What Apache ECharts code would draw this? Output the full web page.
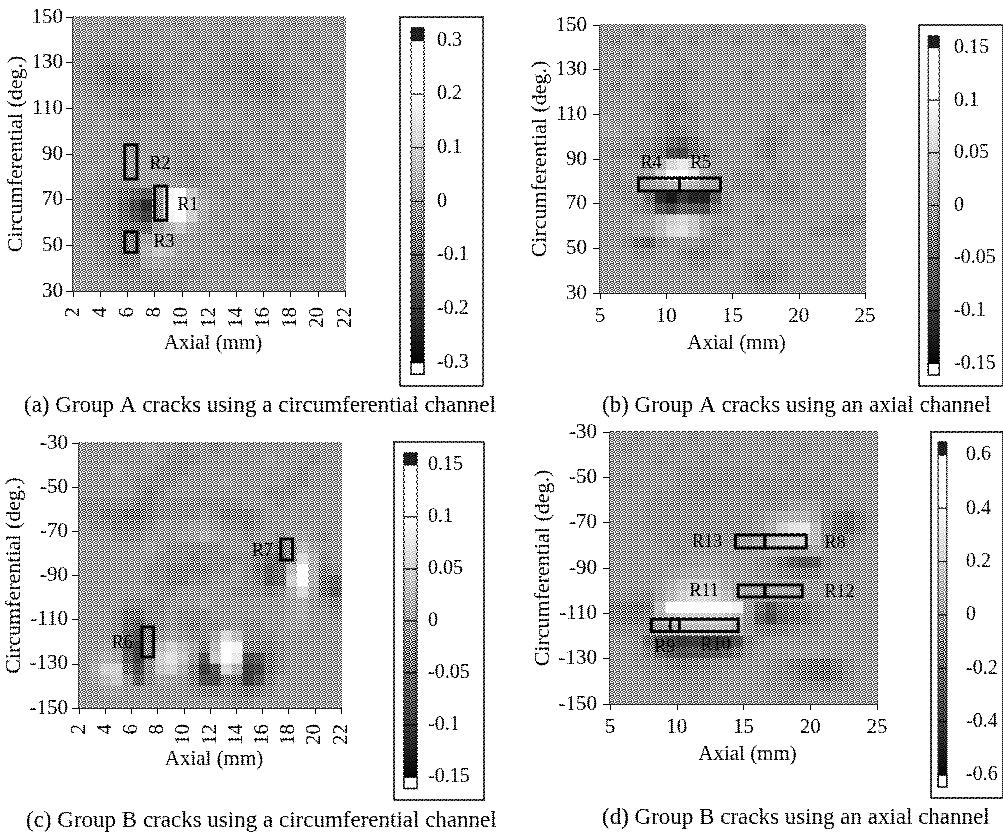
<!DOCTYPE html>
<html><head><meta charset="utf-8">
<style>html,body{margin:0;padding:0;background:#fff}#c{width:1003px;height:832px}
#ht{position:absolute;left:0;top:0;width:1003px;height:832px;mix-blend-mode:overlay;opacity:.95;pointer-events:none;image-rendering:pixelated}</style>
<script src="https://cdn.jsdelivr.net/npm/echarts@6/dist/echarts.min.js"></script></head>
<body><div id="c"></div><div id="ht"></div>
<script>
// Values below are in hundredths of the colour-bar unit, rows run from the top of each plot.
const valuesA=[
[1,0,1,0,-1,0,1,0,0,-1,0,1,0,0,-1,0,0,1,0,-1,0,1,0,0],
[0,1,0,-1,0,0,-1,0,1,0,-1,0,0,-1,0,0,1,0,-1,0,0,0,1,0],
[0,-1,-1,0,-1,-1,0,0,-1,0,0,-1,0,-1,-1,-1,0,0,-1,0,-1,0,0,1],
[-1,-1,-2,-2,-2,-1,-1,-1,0,-1,-1,0,-1,-2,-2,-3,-2,-1,-1,0,0,-1,0,0],
[-1,-2,-3,-4,-3,-3,-2,-1,-1,-1,0,-1,-1,-2,-3,-3,-3,-2,-1,-1,0,0,-1,0],
[-1,-2,-3,-5,-4,-4,-4,-2,-1,0,-1,-1,-2,-2,-2,-3,-4,-3,-2,-1,-1,0,0,0],
[0,-1,-2,-3,-3,-4,-4,-2,-1,-1,0,-1,-1,-1,-2,-3,-3,-4,-2,-1,0,0,1,0],
[1,0,-1,-1,-2,-2,-1,-1,0,0,1,0,-1,0,-1,-1,-2,-2,-1,-1,0,1,0,0],
[1,0,0,-1,-3,-3,-2,-1,-1,0,0,1,0,0,0,-1,-1,-1,-1,0,0,0,1,0],
[0,0,1,0,0,-1,0,0,-1,0,1,0,0,1,0,0,-1,0,0,-1,0,0,1,0],
[0,1,0,0,-1,-1,0,0,-1,-1,-1,0,-1,-1,-1,0,-1,-1,0,-1,-1,0,0,0],
[1,0,0,-1,-1,-1,0,0,0,-1,-1,-1,0,-1,-1,0,0,-1,-1,0,0,0,0,1],
[0,0,0,0,-1,0,1,0,0,-1,-2,-1,0,0,-1,-1,0,0,0,-1,0,1,0,0],
[0,1,0,-1,-1,0,1,1,0,-2,-3,-2,-1,0,0,-1,-1,0,-1,0,0,0,1,0],
[0,0,-1,-2,-2,-1,0,1,1,0,-1,-1,0,0,-1,0,0,-1,0,0,1,0,0,0],
[0,-1,-2,-3,-6,-9,-11,-1,18,24,8,2,0,-1,0,-1,0,0,-1,0,0,0,1,0],
[0,-1,-2,-4,-9,-15,-22,-3,22,28,12,4,1,0,-1,0,-1,-1,0,0,-1,0,0,0],
[0,-1,-2,-4,-8,-13,-18,-2,18,24,10,3,0,0,0,-1,0,-1,-1,0,0,0,1,0],
[0,-1,-2,-4,-6,-7,-8,0,5,8,3,1,0,-1,0,0,-1,-2,-2,-1,0,0,0,0],
[0,0,-1,-3,-5,-4,1,4,3,1,1,0,0,0,-1,-1,-1,-2,-2,-1,-1,0,0,0],
[0,0,-1,-3,-5,-3,4,8,6,2,1,0,0,-1,-1,-2,-3,-3,-2,-2,-1,0,0,0],
[0,0,-1,-2,-4,-3,2,3,2,1,0,0,0,0,-1,-1,-1,-2,-1,-2,-2,-1,0,0],
[0,0,0,-1,-2,-2,-1,0,0,-1,-1,0,0,0,0,0,0,-1,-1,-1,0,0,0,0],
[1,0,0,0,-1,-1,-2,-2,-1,-1,0,0,1,0,0,1,0,0,0,0,1,0,0,1]];
const valuesB=[
[0,0,0,-1,0,0,0,0,0,0,-1,0,0,0,0,0,-1,0,0,0,0,0,0,0],
[0,-1,0,0,0,-1,0,0,-1,0,0,0,-1,0,0,0,0,-1,0,0,0,0,-1,0],
[0,0,0,0,0,0,-1,0,0,0,0,0,0,0,0,0,0,0,0,0,-1,0,0,-1],
[0,0,-1,0,0,0,0,-1,0,0,0,0,0,0,0,0,-1,0,0,-1,0,0,-1,0],
[0,0,0,0,0,-1,-1,-1,-1,0,0,0,0,-1,0,0,0,0,0,0,0,-1,0,0],
[0,-1,0,0,-1,-1,-1,-1,0,0,0,0,0,0,0,0,0,0,0,0,-1,-1,0,0],
[0,0,0,0,0,-1,-1,-1,0,0,0,0,0,0,0,0,0,0,-1,-1,-1,-1,-1,0],
[0,0,0,0,-1,-1,-2,-2,-1,0,0,0,0,0,0,0,0,-1,0,0,0,-1,-1,0],
[1,0,0,0,0,-1,-2,-1,-1,0,0,0,0,0,0,-1,0,0,0,0,-1,-1,0,0],
[1,1,0,0,0,-1,-2,-2,-1,0,0,0,0,0,0,-1,-1,0,0,0,-1,0,0,0],
[0,0,0,-1,-1,-2,-4,-5,-3,-1,0,0,0,0,-1,-2,-1,0,0,0,0,0,0,0],
[0,-1,-1,-1,-2,-3,-7,-8,-4,-2,-1,0,0,0,-1,-2,0,0,0,0,0,0,0,0],
[0,0,0,0,0,2,6,8,5,1,0,0,0,0,0,-1,0,0,0,0,0,0,0,0],
[0,-1,0,0,1,5,10,11,8,2,0,0,-1,-1,-1,0,-1,0,0,0,0,0,0,0],
[0,-1,-1,0,0,1,2,3,2,0,0,0,-1,-1,-1,-1,-1,-1,0,0,0,0,0,0],
[0,0,-1,-1,-4,-11,-13,-10,-12,-12,-6,-1,0,0,0,-1,-1,-1,0,0,0,0,0,0],
[0,0,0,-1,-2,-6,-8,-5,-6,-7,-3,-1,0,0,0,0,0,0,0,0,0,0,0,0],
[0,0,0,1,1,3,5,6,4,1,0,0,0,0,-1,0,0,0,0,0,0,-1,-1,-1],
[0,0,0,1,1,3,6,7,4,1,-1,-1,0,0,0,0,0,0,0,-1,-1,-1,-1,0],
[0,0,-1,-3,-4,-1,0,0,0,-1,-1,0,0,0,0,0,0,0,0,0,0,0,0,0],
[0,0,0,-1,-1,0,0,-1,-2,-2,-1,-1,0,0,0,-1,0,0,0,0,0,0,0,0],
[0,0,0,0,0,0,0,0,-1,-1,0,0,0,-1,-1,-1,-1,0,0,0,0,0,0,0],
[0,0,0,0,0,0,0,0,0,0,0,0,0,-1,-2,-2,-1,0,0,0,0,0,0,0],
[0,0,0,0,0,0,0,0,0,0,0,0,0,0,-1,-1,0,0,0,0,0,0,0,0]];
const valuesC=[
[0,0,0,0,0,0,1,0,0,-1,0,0,-1,0,0,0,0,0,0,0,0,0,0,0],
[0,0,0,0,0,0,0,0,-1,-1,-1,0,0,0,0,0,0,1,0,0,0,-1,0,0],
[0,0,0,1,0,0,0,-1,-1,-1,0,0,0,0,0,0,0,0,0,0,-1,0,0,0],
[0,0,0,0,0,-1,-1,-1,-1,0,0,0,0,1,0,0,0,0,0,-1,-1,0,0,0],
[0,0,0,0,0,-1,-2,-1,0,0,0,0,0,0,0,0,0,-1,-1,-1,0,0,0,0],
[-1,-1,-1,-1,-1,-2,-2,-1,-1,-1,-1,-1,-1,-1,-1,0,0,0,-1,0,0,0,0,0],
[-1,-1,-2,-2,-3,-3,-2,-1,-1,-1,-1,0,-1,-2,-2,-2,-1,0,0,0,0,0,0,0],
[0,-1,-1,-2,-2,-2,-1,0,0,0,1,1,0,-1,-1,-2,-1,0,0,0,0,0,0,0],
[0,0,0,-1,-1,-1,0,0,0,1,1,2,1,0,0,-1,0,0,-1,1,1,0,-1,0],
[0,0,0,0,0,0,1,0,-1,-1,-1,-1,-1,0,0,0,-1,-2,-3,-1,3,1,0,0],
[0,0,0,0,0,0,0,-1,-1,-1,-2,-1,-1,-1,-1,-1,-2,-4,-5,-1,6,2,-1,0],
[0,0,0,0,0,0,-1,-1,-2,-2,-2,-2,-1,-1,0,-1,-3,-5,-4,3,10,2,-2,-1],
[0,0,0,0,0,0,-1,-1,-2,-2,-1,-1,0,0,0,-1,-2,-5,-4,5,13,2,-3,-4],
[0,0,0,0,0,0,0,-1,-1,0,0,0,0,0,-1,-1,-1,-2,-1,2,6,1,-3,-5],
[0,0,0,0,-1,-1,-1,-1,0,0,0,1,0,0,0,0,0,0,0,1,2,0,-1,-2],
[0,0,0,-1,-3,-3,-1,-1,0,-1,-1,-1,0,0,0,0,0,0,0,1,2,0,0,-1],
[0,0,0,-1,-4,-5,-2,-1,0,-1,-2,-1,-1,0,0,-1,-1,0,0,1,1,0,0,0],
[0,0,0,-1,-5,-7,-3,0,1,0,-1,-1,1,6,3,-1,-1,-1,0,0,0,0,0,0],
[0,0,1,0,-6,-9,-2,3,5,3,1,-2,3,14,9,-2,-2,-2,-1,0,0,0,0,0],
[0,1,2,1,-5,-9,-1,5,7,4,0,-6,4,15,8,-7,-6,-3,-1,0,0,0,0,0],
[0,2,5,5,-3,-7,-1,4,5,2,-2,-9,-6,6,2,-9,-8,-3,-1,0,0,0,0,0],
[0,1,3,4,0,-5,-1,1,1,0,-2,-7,-7,-2,-3,-9,-6,-2,0,0,0,0,0,0],
[0,0,1,1,0,0,0,0,0,0,-1,-2,-2,-1,-2,-3,-2,-1,0,0,0,0,0,0],
[0,0,0,0,0,0,0,0,0,0,0,0,0,0,-1,-1,0,0,0,0,0,0,0,0]];
const valuesD=[
[0,0,-2,0,0,0,0,-2,0,0,0,0,0,0,-2,0,0,0,0,0,0,-2,0,0],
[0,-2,0,0,0,-2,0,0,0,0,-2,0,0,0,0,0,0,-2,0,0,0,0,0,0],
[0,0,0,0,-2,0,0,0,-2,0,0,0,0,0,0,-2,0,0,0,0,-2,0,0,0],
[0,0,0,0,0,0,-2,-2,-2,-2,-2,-2,-2,0,0,0,-2,0,0,-2,0,0,0,0],
[0,-2,0,0,0,0,-2,-3,-4,-4,-4,-3,-2,-3,-3,-2,-2,-2,-2,-2,0,0,0,0],
[0,0,0,0,-2,-2,-3,-4,-4,-3,-3,-2,-2,-3,-4,-3,-2,-2,-2,-2,-2,0,0,0],
[0,0,0,-2,-2,-3,-3,-3,-2,-2,-2,-2,-2,-2,-2,-2,2,3,2,-2,-3,-4,-2,0],
[0,0,0,-2,-2,-2,-2,-2,-2,-2,-2,-2,-2,0,4,8,10,10,5,-5,-12,-15,-8,-2],
[0,0,0,-2,-2,-2,-2,-2,-2,-2,-2,-2,0,2,8,20,28,30,12,-5,-14,-16,-8,-2],
[0,0,0,0,-2,-2,-2,-2,-2,-2,-2,0,0,5,12,15,18,20,12,-3,-6,-5,-2,0],
[0,0,0,0,0,-2,-2,0,0,0,0,0,0,2,5,4,0,2,4,0,-2,-2,0,0],
[0,0,0,0,0,0,0,2,3,3,2,0,0,-3,-5,-12,-20,-25,-22,-5,-2,0,0,0],
[0,0,0,0,0,3,5,6,7,6,4,2,0,-2,-3,-6,-8,-10,-8,-2,0,0,0,0],
[0,0,0,0,3,8,14,18,18,14,8,4,2,3,4,4,3,2,0,0,0,0,0,0],
[-3,-3,-4,-5,3,12,20,26,26,20,14,6,0,2,2,2,2,2,0,2,2,0,0,0],
[-8,-10,-12,-10,12,45,58,58,58,58,50,35,0,-15,-25,-15,-12,-10,-5,-2,0,0,0,0],
[-8,-10,-10,-8,6,15,20,20,20,20,18,10,-3,-20,-30,-18,-14,-12,-5,-2,0,0,0,0],
[-3,-4,-4,-5,-2,5,8,10,10,10,8,4,-2,-8,-10,-8,-5,-3,-2,0,0,0,0,0],
[0,0,-3,-15,-28,-35,-40,-38,-38,-40,-38,-28,-8,-2,0,0,0,0,0,0,0,0,0,0],
[0,0,-2,-8,-18,-25,-28,-25,-25,-24,-20,-12,-4,0,0,0,2,2,2,0,0,0,0,0],
[0,0,-2,-3,-5,-8,-10,-8,-6,-4,-3,-2,0,0,-2,-4,-8,-10,-12,-12,-8,-3,0,0],
[0,0,0,-2,-2,-4,-5,-4,-3,-2,0,0,0,0,-2,-4,-6,-10,-14,-14,-10,-3,0,0],
[0,0,0,0,-2,-2,-2,-2,-2,0,0,0,0,0,-2,-2,-4,-4,-5,-6,-4,-2,0,0],
[0,0,0,0,0,0,0,-2,0,0,0,0,0,0,0,-2,-2,0,0,0,0,0,0,0]];

const ticksX22=[2,4,6,8,10,12,14,16,18,20,22];
const ticksX25=[5,10,15,20,25];
const ticksYPos=[30,50,70,90,110,130,150];
const ticksYNeg=[-150,-130,-110,-90,-70,-50,-30];
const levelsA=[0.3,0.2,0.1,0,-0.1,-0.2,-0.3];
const levelsB=[0.15,0.1,0.05,0,-0.05,-0.1,-0.15];
const levelsD=[0.6,0.4,0.2,0,-0.2,-0.4,-0.6];

// [x from, x to, deg from, deg to]
const regionsA=[[8.0,8.9,76,61],[5.8,6.7,94,79],[5.8,6.7,56,47]];
const regionsB=[[7.9,11,81.5,75.7],[11,14.1,81.5,75.7]];
const regionsC=[[6.8,7.7,-113.3,-126.9],[17.4,18.3,-73.5,-83]];
const regionsD=[[14.4,16.6,-75.4,-81.2],[16.6,19.7,-75.4,-81.2],[14.6,16.6,-97.5,-102.8],[16.6,19.4,-97.5,-102.8],[8.1,10.2,-112.6,-118],[9.5,14.6,-112.6,-118]];
const regionNamesA=[['R1',10.46,67.6],['R2',8.4,85.5],['R3',8.7,51.4]];
const regionNamesB=[['R4',8.85,88.2],['R5',12.6,88.2]];
const regionNamesC=[['R6',5.3,-120.6],['R7',16,-78.9]];
const regionNamesD=[['R13',12.27,-78.5],['R8',21.85,-79],['R11',12.05,-100.1],['R12',22.2,-100.6],['R9',9.1,-124.8],['R10',12.9,-124]];

const FONT='"Liberation Serif","Times New Roman",serif';
const STOPS=['#000000','#383838','#686868','#a0a0a0','#d4d4d4','#ffffff','#ffffff'];
function shade(t){ // t in -1..1 -> gray, same ramp as the visualMap
  const p=Math.max(0,Math.min(5.9999,(t+1)*3)),i=Math.floor(p),f=p-i;
  const a=parseInt(STOPS[i].slice(1,3),16),b=parseInt(STOPS[i+1].slice(1,3),16);
  const g=Math.round(a+(b-a)*f);return 'rgb('+g+','+g+','+g+')';
}
// halftone texture of the scanned print, blended over the page (black and white stay as they are)
(function(){const cv=document.createElement('canvas');cv.width=cv.height=6;const x=cv.getContext('2d');
  const m=[[1,0,1,0,0,1],[0,1,0,1,1,0],[1,0,0,1,0,1],[0,1,1,0,1,0],[1,0,1,0,1,1],[0,0,1,1,0,0]];
  m.forEach((r,j)=>r.forEach((v,i)=>{x.fillStyle=v?'#fff':'#000';x.fillRect(i,j,1,1);}));
  document.getElementById('ht').style.backgroundImage='url('+cv.toDataURL()+')';})();

const panels=[
 {vals:valuesA,F:0.3,xr:[2,22],yr:[30,150],xt:ticksX22,yt:ticksYPos,rot:90,
  g:{left:73,top:17,width:272,height:274},xgap:42,ygap:46,ym:10,regs:regionsA,names:regionNamesA,
  lv:levelsA,box:{left:400,top:17,width:83,height:369},ext:0.344,bar:[411,424],barEnds:[0.324,-0.322],lm:37,
  cap:'(a) Group A cracks using a circumferential channel',capX:24,capY:394},
 {vals:valuesB,F:0.15,xr:[5,25],yr:[30,150],xt:ticksX25,yt:ticksYPos,rot:0,
  g:{left:600,top:25,width:265,height:268},xgap:40,ygap:47,ym:13,regs:regionsB,names:regionNamesB,
  lv:levelsB,box:{left:919,top:25,width:100,height:361},ext:0.1715,bar:[930,943],barEnds:[0.161,-0.161],lm:35,
  cap:'(b) Group A cracks using an axial channel',capX:602,capY:394},
 {vals:valuesC,F:0.15,xr:[2,22],yr:[-150,-30],xt:ticksX22,yt:ticksYNeg,rot:90,
  g:{left:79,top:443,width:262,height:265},xgap:40,ygap:52,ym:11,regs:regionsC,names:regionNamesC,
  lv:levelsB,box:{left:394,top:442,width:90,height:358},ext:0.172,bar:[404,417],barEnds:[0.1615,-0.161],lm:34,
  cap:'(c) Group B cracks using a circumferential channel',capX:26,capY:809},
 {vals:valuesD,F:0.6,xr:[5,25],yr:[-150,-30],xt:ticksX25,yt:ticksYNeg,rot:0,
  g:{left:610,top:432,width:267,height:272},xgap:40,ygap:55,ym:13,regs:regionsD,names:regionNamesD,
  lv:levelsD,box:{left:931,top:432,width:100,height:366},ext:0.686,bar:[941,953],barEnds:[0.649,-0.645],lm:35,
  cap:'(d) Group B cracks using an axial channel',capX:602,capY:806}
];

const opt={animation:false,backgroundColor:'#fff',grid:[],xAxis:[],yAxis:[],series:[],visualMap:[],title:[]};
const txt={fontFamily:FONT,fontSize:21,color:'#000'};
const bartxt={fontFamily:FONT,fontSize:20,color:'#000'};
panels.forEach((p)=>{
  const gi=opt.grid.length;
  opt.grid.push(Object.assign({show:true,borderColor:'#222',borderWidth:1,backgroundColor:'transparent',containLabel:false},p.g));
  const cols=p.vals[0].map((_,i)=>i),rows=p.vals.map((_,i)=>i);
  const xCat=opt.xAxis.length;
  opt.xAxis.push({type:'category',gridIndex:gi,data:cols,show:false});
  const xVal=opt.xAxis.length;
  opt.xAxis.push({type:'value',gridIndex:gi,min:p.xr[0],max:p.xr[1],position:'bottom',name:'Axial (mm)',nameLocation:'middle',nameGap:p.xgap,
    nameTextStyle:Object.assign({},txt,{padding:[0,0,0,8]}),splitLine:{show:false},axisLine:{show:true,onZero:false,lineStyle:{color:'#000',width:2}},
    axisTick:{show:true,length:6,customValues:p.xt,lineStyle:{color:'#000',width:1}},
    axisLabel:Object.assign({},txt,{rotate:p.rot,margin:p.rot?16:13,customValues:p.xt,hideOverlap:false,showMinLabel:true,showMaxLabel:true})});
  const yCat=opt.yAxis.length;
  opt.yAxis.push({type:'category',gridIndex:gi,data:rows,show:false});
  const yVal=opt.yAxis.length;
  opt.yAxis.push({type:'value',gridIndex:gi,min:p.yr[0],max:p.yr[1],position:'left',name:'Circumferential (deg.)',nameLocation:'middle',nameGap:p.ygap,
    nameTextStyle:Object.assign({},txt,{fontSize:22}),splitLine:{show:false},axisLine:{show:true,onZero:false,lineStyle:{color:'#000',width:1.5}},
    axisTick:{show:true,length:7,customValues:p.yt,lineStyle:{color:'#000',width:1}},
    axisLabel:Object.assign({},txt,{margin:p.ym,customValues:p.yt,hideOverlap:false,showMinLabel:true,showMaxLabel:true})});
  // field
  const hm=[];
  p.vals.forEach((r,j)=>r.forEach((v,i)=>hm.push([i,p.vals.length-1-j,v/100])));
  const si=opt.series.length;
  opt.series.push({type:'heatmap',xAxisIndex:xCat,yAxisIndex:yCat,data:hm,silent:true,z:1,progressive:0,emphasis:{disabled:true}});
  opt.visualMap.push({type:'continuous',show:false,min:-p.F,max:p.F,seriesIndex:si,calculable:false,inRange:{color:STOPS}});
  // region boxes
  opt.series.push({type:'custom',xAxisIndex:xVal,yAxisIndex:yVal,silent:true,z:3,clip:false,data:p.regs,
    renderItem:(params,api)=>{const a=api.coord([api.value(0),api.value(2)]),b=api.coord([api.value(1),api.value(3)]);
      return {type:'rect',shape:{x:a[0],y:a[1],width:b[0]-a[0],height:b[1]-a[1]},style:{fill:'none',stroke:'#000',lineWidth:3}};}});
  // region names
  opt.series.push({type:'scatter',xAxisIndex:xVal,yAxisIndex:yVal,silent:true,z:4,symbolSize:1,itemStyle:{color:'transparent'},
    data:p.names.map(n=>({name:n[0],value:[n[1],n[2]]})),
    label:{show:true,position:'inside',formatter:'{b}',fontFamily:FONT,fontSize:18,color:'#000',opacity:1}});
  // colour bar
  const g2=opt.grid.length;
  opt.grid.push(Object.assign({show:true,borderColor:'#000',borderWidth:1.5,backgroundColor:'#fff'},p.box));
  const bx=opt.xAxis.length;
  opt.xAxis.push({type:'value',gridIndex:g2,min:p.box.left,max:p.box.left+p.box.width,show:false});
  const by=opt.yAxis.length;
  opt.yAxis.push({type:'value',gridIndex:g2,min:-p.ext,max:p.ext,position:'left',splitLine:{show:false},axisLine:{show:false},axisTick:{show:false},
    axisLabel:Object.assign({},bartxt,{inside:true,margin:p.lm,customValues:p.lv,hideOverlap:false,formatter:v=>String(v)})});
  const bands=[];
  const lv=p.lv;
  bands.push([p.barEnds[0],lv[0],'top']);
  for(let i=0;i<lv.length-1;i++)bands.push([lv[i],lv[i+1],'ramp']);
  bands.push([lv[lv.length-1],p.barEnds[1],'low']);
  const F=lv[0],bar=p.bar;
  opt.series.push({type:'custom',xAxisIndex:bx,yAxisIndex:by,silent:true,z:2,clip:false,
    data:bands.map(b=>[b[0],b[1]]),
    renderItem:(params,api)=>{
      const hi=api.value(0),lo=api.value(1),k=bands[params.dataIndex][2];
      const a=api.coord([bar[0],hi]),b=api.coord([bar[1],lo]);
      let fill,sw=1;
      if(k==='top')fill='#1e1e1e';
      else if(k==='low'){fill='#ffffff';sw=1.5;}
      else fill={type:'linear',x:0,y:0,x2:0,y2:1,colorStops:[{offset:0,color:shade(hi/F)},{offset:1,color:shade(lo/F)}]};
      return {type:'rect',shape:{x:a[0],y:a[1],width:b[0]-a[0],height:b[1]-a[1]},style:{fill:fill,stroke:'#000',lineWidth:sw}};
    }});
  opt.title.push({text:p.cap,left:p.capX,top:p.capY,textStyle:{fontFamily:FONT,fontSize:23,fontWeight:'normal',color:'#000'},padding:0});
});
const chart=echarts.init(document.getElementById('c'),null,{renderer:'canvas'});
chart.setOption(opt);
</script></body></html>
